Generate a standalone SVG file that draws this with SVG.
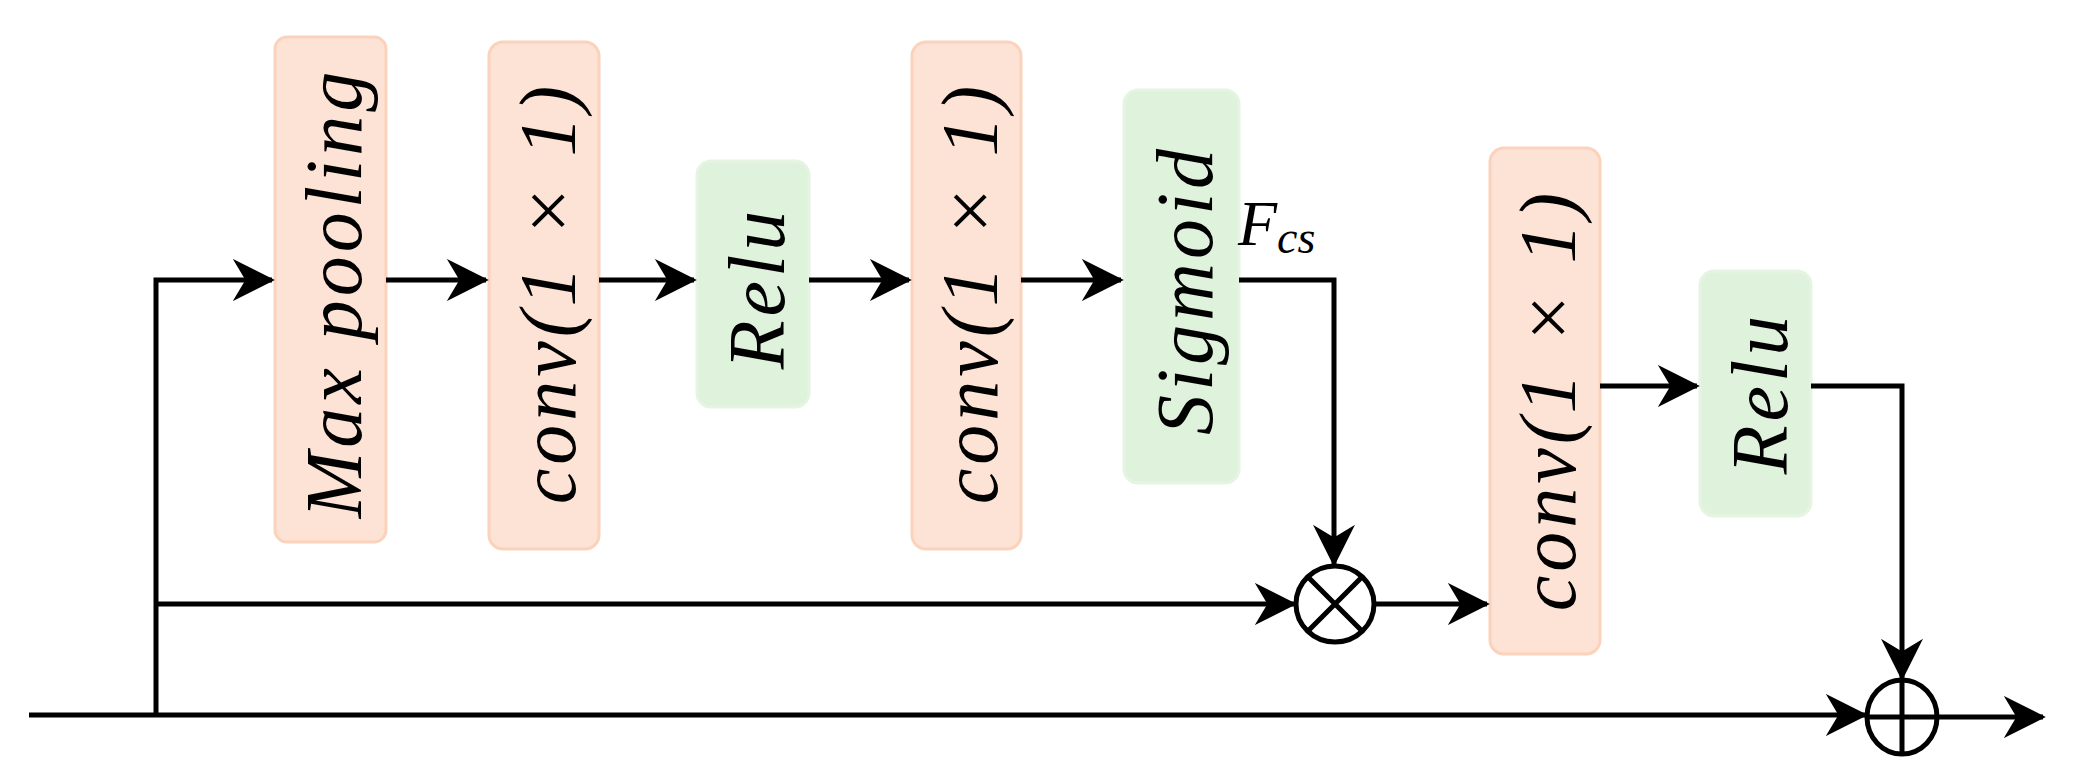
<svg xmlns="http://www.w3.org/2000/svg" width="2073" height="778" viewBox="0 0 2073 778">
<style>
.o{fill:#fde3d5;stroke:#fbd2bb;stroke-width:3}
.g{fill:#dff2dc;stroke:#e6f4e2;stroke-width:3}
.t{font-family:"Liberation Serif",serif;font-style:italic;font-size:80px;letter-spacing:4px;fill:#000;text-anchor:middle;dominant-baseline:central}
.l{fill:none;stroke:#000;stroke-width:5}
</style>
<defs>
<marker id="a" viewBox="0 0 30 30" refX="28" refY="15" markerWidth="42" markerHeight="42" markerUnits="userSpaceOnUse" orient="auto">
<path d="M0,0 L30,15 L0,30 L9,15 Z" fill="#000"/>
</marker>
</defs>
<g id="maxpool"><rect class="o" x="275" y="37" width="111" height="505" rx="12"/><text class="t" transform="translate(334,293) rotate(-90)">Max pooling</text></g>
<g id="conv1"><rect class="o" x="489" y="42" width="110" height="507" rx="14"/><text class="t" transform="translate(548,293) rotate(-90)">conv(1 × 1)</text></g>
<g id="relu1"><rect class="g" x="697" y="161" width="112" height="246" rx="14"/><text class="t" transform="translate(757,288) rotate(-90)">Relu</text></g>
<g id="conv2"><rect class="o" x="912" y="42" width="109" height="507" rx="14"/><text class="t" transform="translate(970,293) rotate(-90)">conv(1 × 1)</text></g>
<g id="sigmoid"><rect class="g" x="1124" y="90" width="115" height="393" rx="14"/><text class="t" transform="translate(1185,290) rotate(-90)">Sigmoid</text></g>
<g id="conv3"><rect class="o" x="1490" y="148" width="110" height="506" rx="14"/><text class="t" transform="translate(1548,400) rotate(-90)">conv(1 × 1)</text></g>
<g id="relu2"><rect class="g" x="1700" y="271" width="111" height="245" rx="14"/><text class="t" transform="translate(1760,393) rotate(-90)">Relu</text></g>
<g id="mul"><ellipse cx="1335" cy="604" rx="39" ry="38" class="l"/><path class="l" d="M1308,577 L1362,631 M1362,577 L1308,631"/></g>
<g id="add"><ellipse cx="1902" cy="717" rx="35" ry="37" class="l"/><path class="l" d="M1867,717 H1937 M1902,680 V754"/></g>
<g id="fcs"><text x="1238" y="245" font-family="Liberation Serif,serif" font-style="italic" font-size="64">F<tspan font-size="46" dy="8">cs</tspan></text></g>
<g id="connectors">
<path class="l" d="M29,715 H1865" marker-end="url(#a)"/>
<path class="l" d="M156,715 V280 H272" marker-end="url(#a)"/>
<path class="l" d="M156,604 H1294" marker-end="url(#a)"/>
<path class="l" d="M386,280 H486" marker-end="url(#a)"/>
<path class="l" d="M599,280 H694" marker-end="url(#a)"/>
<path class="l" d="M809,280 H909" marker-end="url(#a)"/>
<path class="l" d="M1021,280 H1121" marker-end="url(#a)"/>
<path class="l" d="M1239,280 H1334 V564" marker-end="url(#a)"/>
<path class="l" d="M1375,604 H1487" marker-end="url(#a)"/>
<path class="l" d="M1600,386 H1697" marker-end="url(#a)"/>
<path class="l" d="M1811,386 H1902 V678" marker-end="url(#a)"/>
<path class="l" d="M1939,717 H2043" marker-end="url(#a)"/>
</g>
</svg>
